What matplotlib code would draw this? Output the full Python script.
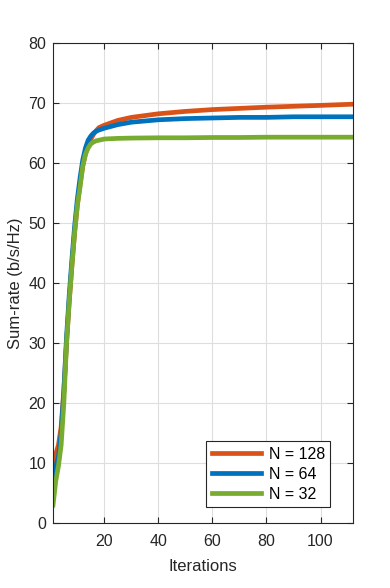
import matplotlib.pyplot as plt

plt.rcParams['font.family'] = ['Liberation Sans', 'DejaVu Sans']

iters = [1, 2, 3, 4, 5, 6, 7, 8, 9, 10, 11, 12, 13, 14, 15, 16, 17, 18,
         20, 25, 30, 40, 50, 60, 70, 80, 90, 100, 112]
rate_128 = [9.5, 11.5, 13, 16, 22, 30, 37, 43, 48.5, 53, 56.5, 59.5, 61.5, 63, 64,
            64.8, 65.4, 65.9, 66.3, 67.1, 67.6, 68.2, 68.6, 68.9, 69.1, 69.3,
            69.45, 69.6, 69.8]
rate_64 = [7, 9.5, 11, 15, 22, 31, 38, 44, 49.5, 54, 57.5, 60.5, 62.5, 63.8, 64.5,
           65, 65.3, 65.5, 65.8, 66.4, 66.8, 67.2, 67.4, 67.5, 67.6, 67.6, 67.7,
           67.7, 67.7]
rate_32 = [3, 7, 9.5, 13, 20, 30, 37, 43, 48.5, 53, 56, 59.5, 61.5, 62.5, 63.2,
           63.5, 63.7, 63.8, 64.0, 64.1, 64.15, 64.2, 64.2, 64.25, 64.25, 64.3,
           64.3, 64.3, 64.3]

fig = plt.figure(figsize=(3.9, 5.88), dpi=100)
ax = fig.add_axes([0.136, 0.1105, 0.769, 0.8164])

ax.plot(iters, rate_128, color='#D95319', linewidth=3.4, label='N = 128')
ax.plot(iters, rate_64, color='#0072BD', linewidth=3.4, label='N = 64')
ax.plot(iters, rate_32, color='#77AC30', linewidth=3.4, label='N = 32')

ax.set_xlim(1, 112)
ax.set_ylim(0, 80)
ax.set_xticks([20, 40, 60, 80, 100])
ax.set_yticks(range(0, 81, 10))
ax.grid(True, color='#dedede', linewidth=0.8)
ax.set_axisbelow(True)
ax.tick_params(direction='in', top=True, right=True, labelsize=11.5,
               colors='#262626', length=4)
ax.tick_params(axis='x', pad=8)
ax.tick_params(axis='y', pad=5)
for s in ax.spines.values():
    s.set_color('#262626')
    s.set_linewidth(0.8)

ax.set_xlabel('Iterations', fontsize=12, color='#262626', labelpad=7)
ax.set_ylabel('Sum-rate (b/s/Hz)', fontsize=12, color='#262626', labelpad=4)

leg = ax.legend(loc='lower right', bbox_to_anchor=(0.925, 0.033), fontsize=11.5,
                fancybox=False, edgecolor='#262626', framealpha=1,
                handlelength=3.1, handletextpad=0.45, borderpad=0.35,
                labelspacing=0.3, borderaxespad=0)
leg.get_frame().set_linewidth(0.8)

plt.savefig('out.png', dpi=100)
